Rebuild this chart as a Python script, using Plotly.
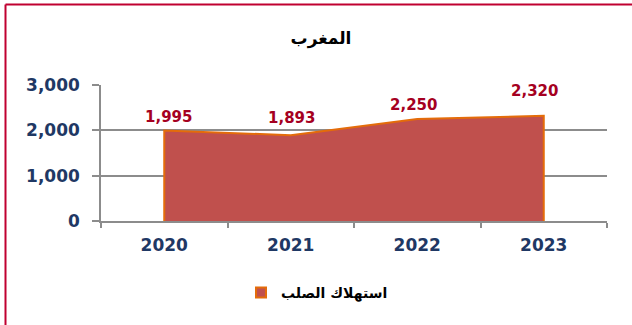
import plotly.graph_objects as go

# Steel consumption in Morocco
years = ["2020", "2021", "2022", "2023"]
consumption = [1995, 1893, 2250, 2320]
series_name = "استهلاك الصلب"
chart_title = "المغرب"
y_ticks = [0, 1000, 2000, 3000]
y_tick_text = ["0", "1,000", "2,000", "3,000"]

# label nudges (px) for the value annotations
label_dx = [4, 1, -4, -9]
label_dy = [14, 17, 14, 25]

W, H = 632, 325
ML, MR, MT, MB = 101, 25, 85, 104
PW, PH = W - ML - MR, H - MT - MB

FILL = "#C0504D"
EDGE = "#E46C0A"
LABEL = "#A50021"
NAVY = "#1F3864"
GRID = "#8C8C8C"
FRAME = "#C00030"

# closed outline so the edges of the area get the orange border too
poly_x = [years[0]] + years + [years[-1]]
poly_y = [0] + consumption + [0]

fig = go.Figure()
fig.add_trace(go.Scatter(
    x=poly_x, y=poly_y, mode="lines", fill="toself",
    fillcolor=FILL, line=dict(color=EDGE, width=2),
    showlegend=False, hoverinfo="skip",
))
# legend key: small filled square with orange rim
fig.add_trace(go.Scatter(
    x=[None], y=[None], mode="markers", name=series_name,
    marker=dict(symbol="square", size=10, color=FILL, line=dict(color=EDGE, width=2)),
))

for i, (v, dx, dy) in enumerate(zip(consumption, label_dx, label_dy)):
    fig.add_annotation(
        x=i, y=v, text=f"<b>{v:,}</b>", showarrow=False,
        xanchor="center", yanchor="middle", xshift=dx, yshift=dy,
        font=dict(family="DejaVu Sans", size=15, color=LABEL),
    )

def px_x(p):
    return (p - ML) / PW

def px_y(p):
    return (H - MB - p) / PH

# outer frame (left and top edges)
fig.add_shape(type="line", xref="paper", yref="paper",
              x0=px_x(5.5), x1=px_x(W + 5), y0=px_y(4.5), y1=px_y(4.5),
              line=dict(color=FRAME, width=2))
fig.add_shape(type="line", xref="paper", yref="paper",
              x0=px_x(5.5), x1=px_x(5.5), y0=px_y(4.5), y1=px_y(H + 5),
              line=dict(color=FRAME, width=2))

fig.update_layout(
    width=W, height=H,
    margin=dict(l=ML, r=MR, t=MT, b=MB),
    paper_bgcolor="white", plot_bgcolor="white",
    title=dict(text=f"<b>{chart_title}</b>", xref="container", yref="container",
               x=321 / W, y=1 - 38 / H, xanchor="center", yanchor="middle",
               font=dict(family="DejaVu Sans", size=17, color="black")),
    showlegend=True,
    legend=dict(orientation="h", xref="container", yref="container",
                x=317 / W, y=1 - 293 / H, xanchor="center", yanchor="middle",
                font=dict(family="DejaVu Sans", size=14, color="black", weight="bold"),
                itemwidth=30),
    xaxis=dict(
        type="category", range=[-0.5, len(years) - 0.5],
        showline=True, linecolor=GRID, linewidth=1.5,
        ticks="outside", tickson="boundaries", ticklen=5, tickcolor=GRID, tickwidth=1.5,
        showgrid=False, zeroline=False, ticklabelstandoff=8,
        tickfont=dict(family="DejaVu Sans", size=17, color=NAVY, weight="bold"),
        fixedrange=True,
    ),
    yaxis=dict(
        range=[0, 3000], tickvals=y_ticks, ticktext=y_tick_text,
        showline=True, linecolor=GRID, linewidth=1.5,
        ticks="outside", ticklen=7, tickcolor=GRID, tickwidth=1.5,
        showgrid=True, gridcolor=GRID, gridwidth=1.5, zeroline=False,
        ticklabelstandoff=9,
        tickfont=dict(family="DejaVu Sans", size=17, color=NAVY, weight="bold"),
        fixedrange=True,
    ),
)

fig.write_html("out.html")
